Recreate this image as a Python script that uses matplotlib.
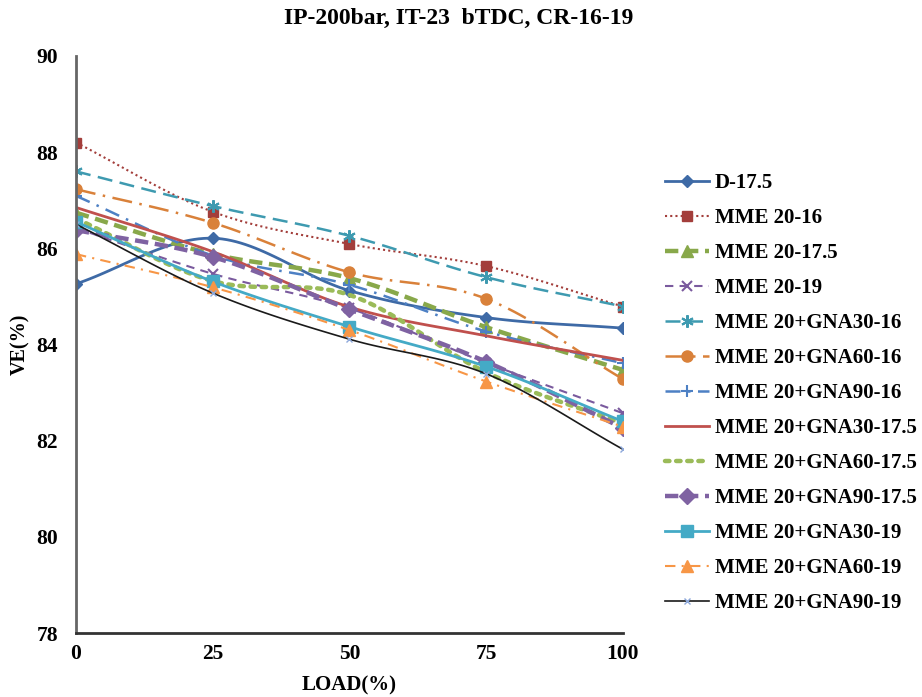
import numpy as np
import matplotlib
matplotlib.use('Agg')
import matplotlib.pyplot as plt

plt.rcParams['font.family'] = ['Liberation Serif', 'DejaVu Serif']
plt.rcParams['font.weight'] = 'bold'

# data
load = [0, 25, 50, 75, 100]
names = ['D-17.5', 'MME 20-16', 'MME 20-17.5', 'MME 20-19',
         'MME 20+GNA30-16', 'MME 20+GNA60-16', 'MME 20+GNA90-16',
         'MME 20+GNA30-17.5', 'MME 20+GNA60-17.5', 'MME 20+GNA90-17.5',
         'MME 20+GNA30-19', 'MME 20+GNA60-19', 'MME 20+GNA90-19']
d_175 = [85.26, 86.21, 85.12, 84.56, 84.34]
mme_16 = [88.20, 86.76, 86.09, 85.63, 84.79]
mme_175 = [86.74, 85.88, 85.38, 84.36, 83.47]
mme_19 = [86.42, 85.47, 84.75, 83.62, 82.57]
gna30_16 = [87.60, 86.88, 86.26, 85.40, 84.79]
gna60_16 = [87.23, 86.53, 85.50, 84.95, 83.28]
gna90_16 = [87.09, 85.85, 85.24, 84.27, 83.61]
gna30_175 = [86.85, 85.93, 84.78, 84.18, 83.67]
gna60_175 = [86.62, 85.32, 85.03, 83.42, 82.35]
gna90_175 = [86.38, 85.82, 84.73, 83.64, 82.26]
gna30_19 = [86.55, 85.31, 84.37, 83.54, 82.40]
gna60_19 = [85.88, 85.19, 84.30, 83.23, 82.29]
gna90_19 = [86.50, 85.07, 84.11, 83.39, 81.82]

series = [d_175, mme_16, mme_175, mme_19, gna30_16, gna60_16, gna90_16,
          gna30_175, gna60_175, gna90_175, gna30_19, gna60_19, gna90_19]

styles = [
    dict(color='#3E6AA6', ls='-', lw=2, marker='D', ms=6),
    dict(color='#A33E3B', ls=(0, (1, 1.5)), lw=1.5, marker='s', ms=7),
    dict(color='#88A84A', ls=(0, (3, 1.5)), lw=3.2, marker='^', ms=8),
    dict(color='#7A5A9E', ls=(0, (4, 3)), lw=1.5, marker='x', ms=7, mew=1.5),
    dict(color='#3E9AB0', ls=(0, (6, 3)), lw=1.8, marker=(6, 2, 0), ms=9, mew=1.5),
    dict(color='#D9813A', ls=(0, (8, 3, 1, 3)), lw=1.8, marker='o', ms=8),
    dict(color='#4D80C4', ls=(0, (6, 3, 1, 3)), lw=1.8, marker='+', ms=8, mew=1.5),
    dict(color='#C0504D', ls='-', lw=2, marker=None),
    dict(color='#9BBB59', ls=(0, (1, 1.5)), lw=3.2, marker=None, dash_capstyle='round'),
    dict(color='#7F62A2', ls=(0, (3, 1.5)), lw=3.2, marker='D', ms=8),
    dict(color='#44AAC6', ls='-', lw=2, marker='s', ms=8),
    dict(color='#F79646', ls=(0, (5, 3, 1, 3)), lw=1.5, marker='^', ms=8),
    dict(color='#1A1A1A', ls='-', lw=1.2, marker='x', ms=4, mfc='#8EA9DB', mec='#8EA9DB'),
]


def smooth(x, y, n=30):
    # catmull-rom style curve through the points, like excel smoothed lines
    x = np.asarray(x, float)
    y = np.asarray(y, float)
    px = np.concatenate([[2 * x[0] - x[1]], x, [2 * x[-1] - x[-2]]])
    py = np.concatenate([[2 * y[0] - y[1]], y, [2 * y[-1] - y[-2]]])
    t = np.linspace(0, 1, n)
    xs, ys = [], []
    for i in range(1, len(px) - 2):
        for p, out in ((py, ys), (px, xs)):
            p0, p1, p2, p3 = p[i - 1], p[i], p[i + 1], p[i + 2]
            out.extend(0.5 * (2 * p1 + (-p0 + p2) * t
                              + (2 * p0 - 5 * p1 + 4 * p2 - p3) * t ** 2
                              + (-p0 + 3 * p1 - 3 * p2 + p3) * t ** 3))
    return np.array(xs), np.array(ys)


fig = plt.figure(figsize=(9.22, 6.97), dpi=100)
ax = fig.add_axes([0.0824, 0.0918, 0.5933, 0.8279])

handles = []
for name, vals, st in zip(names, series, styles):
    st = dict(st)
    marker = st.pop('marker')
    ms = st.pop('ms', 7)
    mew = st.pop('mew', 1)
    mfc = st.pop('mfc', st['color'])
    mec = st.pop('mec', st['color'])
    xs, ys = smooth(load, vals)
    ax.plot(xs, ys, **st)
    if marker is not None:
        ax.plot(load, vals, ls='none', marker=marker, ms=ms, mew=mew,
                mfc=mfc, mec=mec)
    h, = ax.plot([], [], marker=marker, ms=ms, mew=mew, mfc=mfc, mec=mec, **st)
    h.set_label(name)
    handles.append(h)

ax.set_xlim(0, 100)
ax.set_ylim(78, 90)
ax.set_xticks(load)
ax.set_yticks(np.arange(78, 91, 2))
ax.spines['top'].set_visible(False)
ax.spines['right'].set_visible(False)
ax.spines['left'].set_color('#666666')
ax.spines['left'].set_linewidth(2)
ax.spines['bottom'].set_color('#333333')
ax.spines['bottom'].set_linewidth(2)
ax.tick_params(length=0, labelsize=15.5)
ax.tick_params(axis='x', pad=8)
ax.tick_params(axis='y', pad=13)
for lab in ax.get_xticklabels() + ax.get_yticklabels():
    lab.set_fontweight('bold')

ax.set_xlabel('LOAD(%)', fontsize=15, fontweight='bold', labelpad=8)
ax.set_ylabel('VE(%)', fontsize=14.5, fontweight='bold', labelpad=4)
fig.text(0.498, 0.974, 'IP-200bar, IT-23  bTDC, CR-16-19', ha='center',
         va='center', fontsize=17, fontweight='bold')

fig.legend(handles=handles, loc='center left', bbox_to_anchor=(0.710, 0.436),
           frameon=False, handlelength=2.1, handletextpad=0.3,
           labelspacing=0.72, borderpad=0,
           prop={'weight': 'bold', 'size': 15})

fig.savefig('out.png', dpi=100)
